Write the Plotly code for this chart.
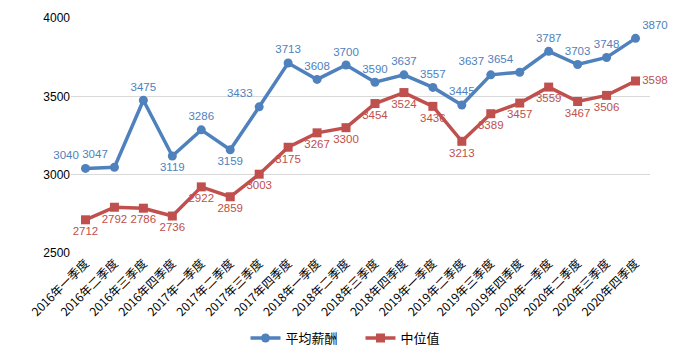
import plotly.graph_objects as go

categories = ["2016年一季度", "2016年二季度", "2016年三季度", "2016年四季度",
              "2017年一季度", "2017年二季度", "2017年三季度", "2017年四季度",
              "2018年一季度", "2018年二季度", "2018年三季度", "2018年四季度",
              "2019年一季度", "2019年二季度", "2019年三季度", "2019年四季度",
              "2020年一季度", "2020年二季度", "2020年三季度", "2020年四季度"]
avg_salary = [3040, 3047, 3475, 3119, 3286, 3159, 3433, 3713, 3608, 3700,
              3590, 3637, 3557, 3445, 3637, 3654, 3787, 3703, 3748, 3870]
median_salary = [2712, 2792, 2786, 2736, 2922, 2859, 3003, 3175, 3267, 3300,
                 3454, 3524, 3436, 3213, 3389, 3457, 3559, 3467, 3506, 3598]

blue = "#4F81BD"
red = "#C0504D"

blue_pos = ["top left", "top left", "top center", "bottom center", "top center",
            "bottom center", "top left", "top center", "top center", "top center",
            "top center", "top center", "top center", "top center", "top left",
            "top left", "top center", "top center", "top center", "top right"]
red_pos = ["bottom center"] * (len(median_salary) - 1) + ["middle right"]

fig = go.Figure()
fig.add_trace(go.Scatter(
    x=categories, y=avg_salary, name="平均薪酬", mode="lines+markers+text",
    line=dict(color=blue, width=3.5), marker=dict(symbol="circle", size=9, color=blue),
    text=[str(v) for v in avg_salary], textposition=blue_pos,
    textfont=dict(color=blue, size=11.5, family="Liberation Sans"),
    cliponaxis=False,
))
fig.add_trace(go.Scatter(
    x=categories, y=median_salary, name="中位值", mode="lines+markers+text",
    line=dict(color=red, width=3.5), marker=dict(symbol="square", size=9, color=red),
    text=[str(v) for v in median_salary], textposition=red_pos,
    textfont=dict(color=red, size=11.5, family="Liberation Sans"),
    cliponaxis=False,
))

fig.update_layout(
    width=700, height=354,
    margin=dict(l=71, r=50, t=18, b=101, autoexpand=False),
    plot_bgcolor="white", paper_bgcolor="white",
    font=dict(family="Noto Sans CJK SC", size=12, color="#000000"),
    showlegend=True,
    legend=dict(orientation="h", x=0.5, xanchor="center",
                yref="container", y=0.045, yanchor="middle",
                font=dict(size=13), itemwidth=30, entrywidth=70,
                entrywidthmode="pixels", tracegroupgap=0),
    xaxis=dict(type="category", range=[-0.5, len(categories) - 0.5],
               tickangle=-45, showgrid=False, showline=False, automargin=False,
               ticks="", tickfont=dict(size=12, family="Noto Sans CJK SC")),
    yaxis=dict(range=[2500, 4000], tickvals=[2500, 3000, 3500, 4000],
               showgrid=True, gridcolor="#D9D9D9", gridwidth=1, zeroline=False,
               showline=False, ticks="", ticklen=0, automargin=False,
               tickfont=dict(size=12, family="Liberation Sans")),
)

fig.write_html("out.html")
